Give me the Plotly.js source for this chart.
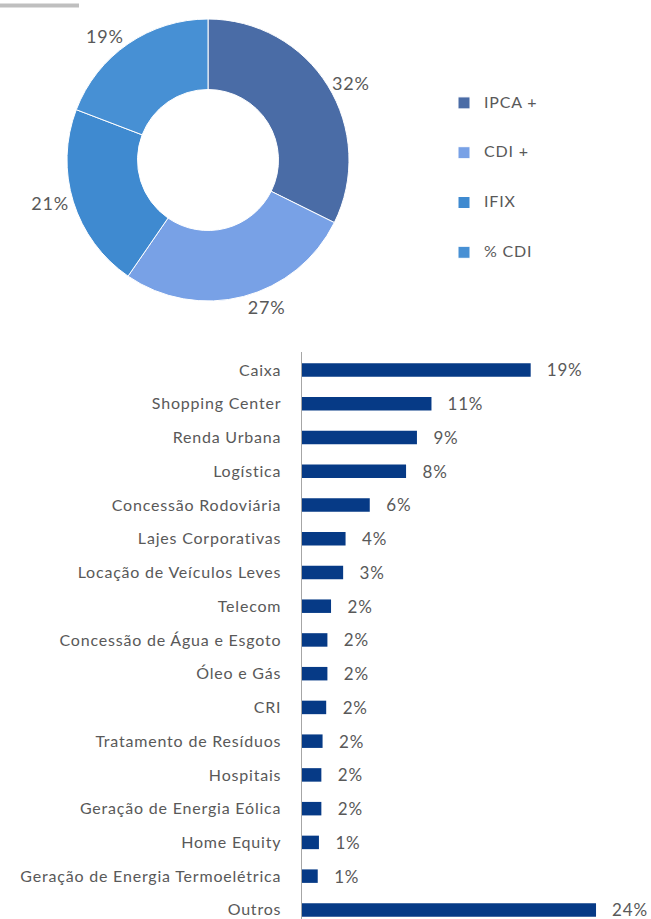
<!DOCTYPE html>
<html><head><meta charset="utf-8">
<script src="https://cdn.plot.ly/plotly-3.0.1.min.js"></script>
<style>
html,body{margin:0;padding:0;background:#fff}
#chart{width:651px;height:919px}
#chart text{letter-spacing:0.8px}
</style>
</head><body><div id="chart"></div>
<script>
// Donut: index breakdown
const indexNames = ['IPCA +', 'CDI +', 'IFIX', '% CDI'];
const indexShares = [32, 27, 21, 19];
const indexColors = ['#4a6ca6', '#78a1e6', '#3f8ad0', '#4790d4'];

// Bars: sector breakdown
const sectors = ['Caixa', 'Shopping Center', 'Renda Urbana', 'Logística', 'Concessão Rodoviária',
  'Lajes Corporativas', 'Locação de Veículos Leves', 'Telecom', 'Concessão de Água e Esgoto',
  'Óleo e Gás', 'CRI', 'Tratamento de Resíduos', 'Hospitais', 'Geração de Energia Eólica',
  'Home Equity', 'Geração de Energia Termoelétrica', 'Outros'];
const sectorShares = [18.9, 10.7, 9.5, 8.6, 5.6, 3.6, 3.4, 2.4, 2.1, 2.1, 2.0, 1.7, 1.6, 1.6, 1.4, 1.3, 24.3];
const sectorLabels = ['19%', '11%', '9%', '8%', '6%', '4%', '3%', '2%', '2%', '2%', '2%', '2%', '2%', '2%', '1%', '1%', '24%'];

const FONT = 'Lato, "Open Sans", sans-serif';
const GREY = '#595959';
const W = 651, H = 919;

const pie = {
  type: 'pie',
  labels: indexNames.map(n => '\u00a0<br><span style="font-size:16px">' + n + '</span><br>\u00a0'),
  values: indexShares,
  hole: 0.5,
  sort: false,
  direction: 'clockwise',
  rotation: 0,
  marker: {colors: indexColors, line: {color: '#ffffff', width: 1}},
  texttemplate: '%{value}%',
  textposition: 'outside',
  textfont: {family: FONT, size: 18, color: GREY},
  domain: {x: [67 / W, 349 / W], y: [(H - 301) / H, (H - 19) / H]},
  hoverinfo: 'none'
};

const bar = {
  type: 'bar',
  orientation: 'h',
  y: sectors,
  x: sectorShares,
  text: sectorLabels,
  texttemplate: '\u00a0\u00a0\u00a0%{text}',
  textposition: 'outside',
  constraintext: 'none',
  cliponaxis: false,
  textfont: {family: FONT, size: 17, color: GREY},
  marker: {color: '#063a86'},
  xaxis: 'x', yaxis: 'y',
  showlegend: false,
  hoverinfo: 'none'
};

const layout = {
  width: W, height: H,
  margin: {l: 0, r: 0, t: 0, b: 0},
  paper_bgcolor: '#ffffff', plot_bgcolor: '#ffffff',
  font: {family: FONT, color: GREY},
  bargap: 0.6,
  showlegend: true,
  legend: {
    x: 444 / W, xanchor: 'left',
    y: 1 - 73 / H, yanchor: 'top',
    font: {family: FONT, size: 12, color: GREY},
    bgcolor: 'rgba(0,0,0,0)'
  },
  xaxis: {
    domain: [302 / W, 1],
    range: [0, 349 / 12.1],
    visible: false,
    fixedrange: true
  },
  yaxis: {
    domain: [0, (H - 352) / H],
    type: 'category',
    range: [16.27, -0.533],
    autorange: false,
    showline: true, linecolor: '#a6a6a6', linewidth: 1.5,
    showgrid: false, zeroline: false,
    ticks: '', ticklabelstandoff: 16,
    tickfont: {family: FONT, size: 16, color: GREY},
    fixedrange: true
  },
  shapes: [{
    type: 'rect', xref: 'paper', yref: 'paper',
    x0: 0, x1: 79 / W, y0: 1 - 7.5 / H, y1: 1 - 3.5 / H,
    fillcolor: '#bfbfbf', line: {width: 0}
  }]
};

Plotly.newPlot('chart', [pie, bar], layout, {displayModeBar: false, staticPlot: true});
</script>
</body></html>
